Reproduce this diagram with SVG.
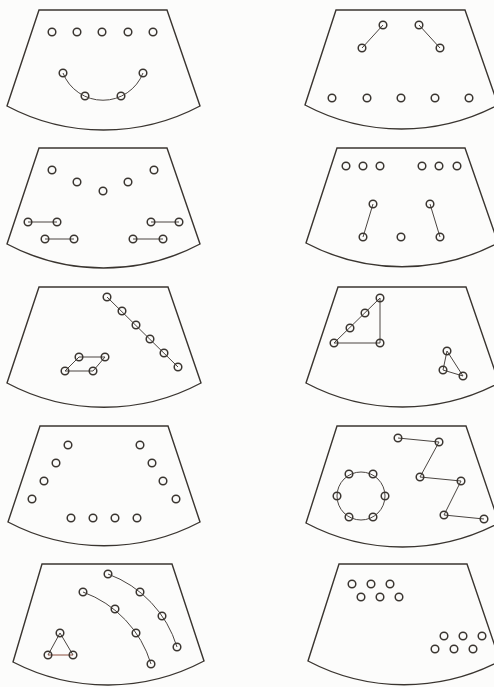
<svg xmlns="http://www.w3.org/2000/svg" width="494" height="687" viewBox="0 0 494 687">
<style>
.bg{fill:#fcfcfb}
.panel{fill:none;stroke:#3a3530;stroke-width:1.4;stroke-linejoin:miter}
.n{fill:none;stroke:#3a3530;stroke-width:1.5}
.c{fill:none;stroke:#4a4440;stroke-width:1}
.cr{fill:none;stroke:#8a4d3c;stroke-width:1}
</style>
<rect class="bg" x="0" y="0" width="494" height="687"/>
<g id="panels">
<path id="panel1" class="panel" d="M39,10 L167,10 L200,106 A206,206 0 0 1 7,106 Z"/>
<path id="panel2" class="panel" d="M336,10 L465,10 L498,105 A206,206 0 0 1 305,105 Z"/>
<path id="panel3" class="panel" d="M39,148 L167,148 L200,244 A206,206 0 0 1 7,244 Z"/>
<path id="panel4" class="panel" d="M337,148 L465,148 L498,243 A206,206 0 0 1 306,243 Z"/>
<path id="panel5" class="panel" d="M39,287 L168,287 L201,383 A206,206 0 0 1 7,383 Z"/>
<path id="panel6" class="panel" d="M338,287 L466,287 L499,383 A206,206 0 0 1 306,383 Z"/>
<path id="panel7" class="panel" d="M40,426 L168,426 L200,522 A206,206 0 0 1 8,522 Z"/>
<path id="panel8" class="panel" d="M337,426 L466,426 L499,523 A206,206 0 0 1 306,523 Z"/>
<path id="panel9" class="panel" d="M42,564 L172,564 L204,661 A206,206 0 0 1 13,662 Z"/>
<path id="panel10" class="panel" d="M339,564 L467,564 L500,661 A206,206 0 0 1 308,661 Z"/>
</g>
<g id="connectors">
<path class="c" d="M63,73 A43,43 0 0 0 143,73"/>
<line class="c" x1="383" y1="25" x2="362" y2="48"/>
<line class="c" x1="419" y1="25" x2="440" y2="48"/>
<line class="c" x1="28" y1="222" x2="57" y2="222"/>
<line class="c" x1="45" y1="239" x2="74" y2="239"/>
<line class="c" x1="151" y1="222" x2="179" y2="222"/>
<line class="c" x1="133" y1="239" x2="163" y2="239"/>
<line class="c" x1="373" y1="204" x2="363" y2="237"/>
<line class="c" x1="430" y1="204" x2="440" y2="237"/>
<line class="c" x1="107" y1="297" x2="178" y2="367"/>
<path class="c" d="M79,357 L105,357 L93,371 L65,371 Z"/>
<path class="c" d="M380,298 L334,343 L380,343 Z"/>
<path class="c" d="M447,351 L443,370 L463,376 Z"/>
<circle class="c" cx="361" cy="496" r="24"/>
<path class="c" d="M398,438 L439,442 L420,477 L461,481 L444,515 L484,519"/>
<path class="c" d="M83,592 A111,111 0 0 1 151,664"/>
<path class="c" d="M108,574 A113,113 0 0 1 177,647"/>
<path class="c" d="M48,655 L60,633 L73,655"/>
<line class="cr" x1="48" y1="655" x2="73" y2="655"/>
</g>
<g id="nodes-panel1">
<circle id="p1a" class="n" cx="52" cy="32" r="3.8"/>
<circle id="p1b" class="n" cx="77" cy="32" r="3.8"/>
<circle id="p1c" class="n" cx="102" cy="32" r="3.8"/>
<circle id="p1d" class="n" cx="128" cy="32" r="3.8"/>
<circle id="p1e" class="n" cx="153" cy="32" r="3.8"/>
<circle id="p1f" class="n" cx="63" cy="73" r="3.8"/>
<circle id="p1g" class="n" cx="85" cy="96" r="3.8"/>
<circle id="p1h" class="n" cx="121" cy="96" r="3.8"/>
<circle id="p1i" class="n" cx="143" cy="73" r="3.8"/>
</g>
<g id="nodes-panel2">
<circle id="p2a" class="n" cx="383" cy="25" r="3.8"/>
<circle id="p2b" class="n" cx="362" cy="48" r="3.8"/>
<circle id="p2c" class="n" cx="419" cy="25" r="3.8"/>
<circle id="p2d" class="n" cx="440" cy="48" r="3.8"/>
<circle id="p2e" class="n" cx="332" cy="98" r="3.8"/>
<circle id="p2f" class="n" cx="367" cy="98" r="3.8"/>
<circle id="p2g" class="n" cx="401" cy="98" r="3.8"/>
<circle id="p2h" class="n" cx="435" cy="98" r="3.8"/>
<circle id="p2i" class="n" cx="469" cy="98" r="3.8"/>
</g>
<g id="nodes-panel3">
<circle id="p3a" class="n" cx="52" cy="170" r="3.8"/>
<circle id="p3b" class="n" cx="77" cy="182" r="3.8"/>
<circle id="p3c" class="n" cx="103" cy="191" r="3.8"/>
<circle id="p3d" class="n" cx="128" cy="182" r="3.8"/>
<circle id="p3e" class="n" cx="154" cy="170" r="3.8"/>
<circle id="p3f" class="n" cx="28" cy="222" r="3.8"/>
<circle id="p3g" class="n" cx="57" cy="222" r="3.8"/>
<circle id="p3h" class="n" cx="45" cy="239" r="3.8"/>
<circle id="p3i" class="n" cx="74" cy="239" r="3.8"/>
<circle id="p3j" class="n" cx="151" cy="222" r="3.8"/>
<circle id="p3k" class="n" cx="179" cy="222" r="3.8"/>
<circle id="p3l" class="n" cx="133" cy="239" r="3.8"/>
<circle id="p3m" class="n" cx="163" cy="239" r="3.8"/>
</g>
<g id="nodes-panel4">
<circle id="p4a" class="n" cx="346" cy="166" r="3.8"/>
<circle id="p4b" class="n" cx="363" cy="166" r="3.8"/>
<circle id="p4c" class="n" cx="380" cy="166" r="3.8"/>
<circle id="p4d" class="n" cx="422" cy="166" r="3.8"/>
<circle id="p4e" class="n" cx="439" cy="166" r="3.8"/>
<circle id="p4f" class="n" cx="457" cy="166" r="3.8"/>
<circle id="p4g" class="n" cx="373" cy="204" r="3.8"/>
<circle id="p4h" class="n" cx="363" cy="237" r="3.8"/>
<circle id="p4i" class="n" cx="401" cy="237" r="3.8"/>
<circle id="p4j" class="n" cx="430" cy="204" r="3.8"/>
<circle id="p4k" class="n" cx="440" cy="237" r="3.8"/>
</g>
<g id="nodes-panel5">
<circle id="p5a" class="n" cx="107" cy="297" r="3.8"/>
<circle id="p5b" class="n" cx="122" cy="311" r="3.8"/>
<circle id="p5c" class="n" cx="136" cy="325" r="3.8"/>
<circle id="p5d" class="n" cx="150" cy="339" r="3.8"/>
<circle id="p5e" class="n" cx="164" cy="353" r="3.8"/>
<circle id="p5f" class="n" cx="178" cy="367" r="3.8"/>
<circle id="p5g" class="n" cx="79" cy="357" r="3.8"/>
<circle id="p5h" class="n" cx="105" cy="357" r="3.8"/>
<circle id="p5i" class="n" cx="93" cy="371" r="3.8"/>
<circle id="p5j" class="n" cx="65" cy="371" r="3.8"/>
</g>
<g id="nodes-panel6">
<circle id="p6a" class="n" cx="380" cy="298" r="3.8"/>
<circle id="p6b" class="n" cx="365" cy="313" r="3.8"/>
<circle id="p6c" class="n" cx="350" cy="328" r="3.8"/>
<circle id="p6d" class="n" cx="334" cy="343" r="3.8"/>
<circle id="p6e" class="n" cx="380" cy="343" r="3.8"/>
<circle id="p6f" class="n" cx="447" cy="351" r="3.8"/>
<circle id="p6g" class="n" cx="443" cy="370" r="3.8"/>
<circle id="p6h" class="n" cx="463" cy="376" r="3.8"/>
</g>
<g id="nodes-panel7">
<circle id="p7a" class="n" cx="68" cy="445" r="3.8"/>
<circle id="p7b" class="n" cx="56" cy="463" r="3.8"/>
<circle id="p7c" class="n" cx="44" cy="481" r="3.8"/>
<circle id="p7d" class="n" cx="32" cy="499" r="3.8"/>
<circle id="p7e" class="n" cx="140" cy="445" r="3.8"/>
<circle id="p7f" class="n" cx="152" cy="463" r="3.8"/>
<circle id="p7g" class="n" cx="163" cy="481" r="3.8"/>
<circle id="p7h" class="n" cx="176" cy="499" r="3.8"/>
<circle id="p7i" class="n" cx="71" cy="518" r="3.8"/>
<circle id="p7j" class="n" cx="93" cy="518" r="3.8"/>
<circle id="p7k" class="n" cx="115" cy="518" r="3.8"/>
<circle id="p7l" class="n" cx="137" cy="518" r="3.8"/>
</g>
<g id="nodes-panel8">
<circle id="p8a" class="n" cx="349" cy="474" r="3.8"/>
<circle id="p8b" class="n" cx="373" cy="474" r="3.8"/>
<circle id="p8c" class="n" cx="385" cy="496" r="3.8"/>
<circle id="p8d" class="n" cx="373" cy="517" r="3.8"/>
<circle id="p8e" class="n" cx="349" cy="517" r="3.8"/>
<circle id="p8f" class="n" cx="337" cy="496" r="3.8"/>
<circle id="p8g" class="n" cx="398" cy="438" r="3.8"/>
<circle id="p8h" class="n" cx="439" cy="442" r="3.8"/>
<circle id="p8i" class="n" cx="420" cy="477" r="3.8"/>
<circle id="p8j" class="n" cx="461" cy="481" r="3.8"/>
<circle id="p8k" class="n" cx="444" cy="515" r="3.8"/>
<circle id="p8l" class="n" cx="484" cy="519" r="3.8"/>
</g>
<g id="nodes-panel9">
<circle id="p9a" class="n" cx="83" cy="592" r="3.8"/>
<circle id="p9b" class="n" cx="115" cy="609" r="3.8"/>
<circle id="p9c" class="n" cx="136" cy="633" r="3.8"/>
<circle id="p9d" class="n" cx="151" cy="664" r="3.8"/>
<circle id="p9e" class="n" cx="108" cy="574" r="3.8"/>
<circle id="p9f" class="n" cx="140" cy="592" r="3.8"/>
<circle id="p9g" class="n" cx="162" cy="616" r="3.8"/>
<circle id="p9h" class="n" cx="177" cy="647" r="3.8"/>
<circle id="p9i" class="n" cx="60" cy="633" r="3.8"/>
<circle id="p9j" class="n" cx="48" cy="655" r="3.8"/>
<circle id="p9k" class="n" cx="73" cy="655" r="3.8"/>
</g>
<g id="nodes-panel10">
<circle id="p10a" class="n" cx="352" cy="584" r="3.8"/>
<circle id="p10b" class="n" cx="371" cy="584" r="3.8"/>
<circle id="p10c" class="n" cx="390" cy="584" r="3.8"/>
<circle id="p10d" class="n" cx="361" cy="597" r="3.8"/>
<circle id="p10e" class="n" cx="380" cy="597" r="3.8"/>
<circle id="p10f" class="n" cx="399" cy="597" r="3.8"/>
<circle id="p10g" class="n" cx="444" cy="636" r="3.8"/>
<circle id="p10h" class="n" cx="463" cy="636" r="3.8"/>
<circle id="p10i" class="n" cx="482" cy="636" r="3.8"/>
<circle id="p10j" class="n" cx="435" cy="649" r="3.8"/>
<circle id="p10k" class="n" cx="454" cy="649" r="3.8"/>
<circle id="p10l" class="n" cx="473" cy="649" r="3.8"/>
</g>
</svg>
